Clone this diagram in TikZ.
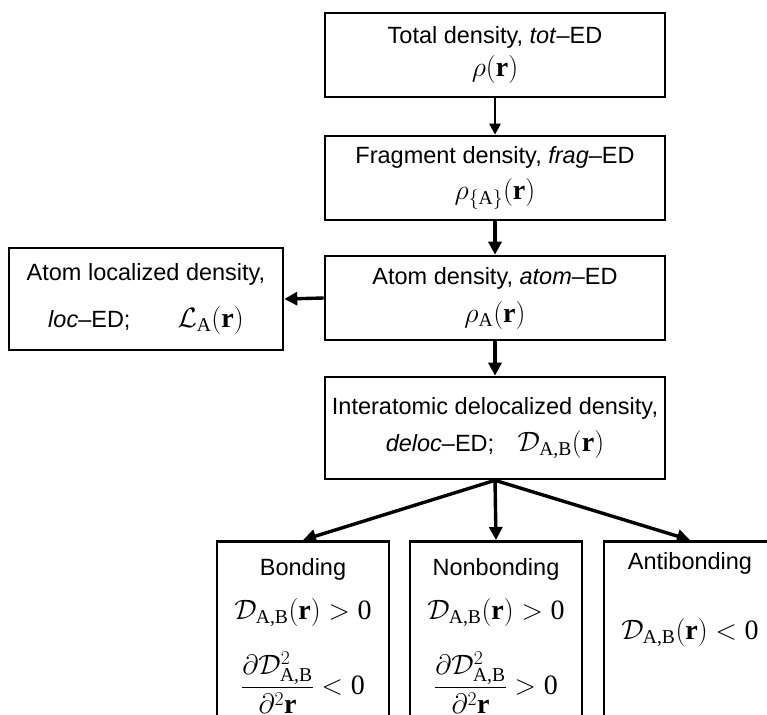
\RequirePackage{fix-cm}
\documentclass[tikz,border=0pt]{standalone}
\usepackage{amsmath}
\usepackage[no-math]{fontspec}
\setmainfont{Liberation Sans}
\newfontfamily\tnr{Liberation Serif}
\newcommand{\ssub}[1]{\text{\tnr #1}}
\newcommand{\bfr}{\text{\tnr\bfseries r}}
\newcommand{\mth}[1]{{\fontsize{28}{30}\selectfont$#1$}}
\usetikzlibrary{arrows.meta}
\begin{document}
\begin{tikzpicture}[x=1pt,y=-1pt,
  font=\fontsize{23.5}{28}\selectfont,
  box/.style={draw,line width=2.6pt,minimum width=340pt,minimum height=84pt,align=center,inner sep=0pt},
  lowbox/.style={draw,line width=2.6pt,minimum width=172pt,minimum height=230pt,anchor=north,inner sep=0pt},
  lowtxt/.style={anchor=north,align=center,inner sep=0pt},
  arr/.style={line width=3.4pt,-{Triangle[length=13pt,width=13pt]}},
  thinarr/.style={line width=2.6pt,-{Triangle[length=11pt,width=11pt]}}]
\useasboundingbox (0,0) rectangle (767,714);
\clip (0,0) rectangle (767,714);
\node[box] (tot) at (495,55) {Total density, \textit{tot}--ED\\[5pt] \mth{\rho(\bfr)}};
\node[box] (frag) at (495,178) {Fragment density, \textit{frag}--ED\\[8pt] \mth{\rho_{\{\ssub{A}\}}(\bfr)}};
\node[box] (atom) at (495,298) {Atom density, \textit{atom}--ED\\[10pt] \mth{\rho_{\ssub{A}}(\bfr)}};
\node[box,minimum width=274pt,minimum height=102pt] (loc) at (146,299) {Atom localized density,\\[19pt] \textit{loc}--ED;\qquad \mth{\mathcal{L}_{\ssub{A}}(\bfr)}};
\node[box,minimum height=102pt] (deloc) at (495,428) {Interatomic delocalized density,\\[9pt] \textit{deloc}--ED;\quad \mth{\mathcal{D}_{\ssub{A,B}}(\bfr)}};
\node[lowbox] (bond) at (303,540) {};
\node[lowbox] (nonbond) at (496,540) {};
\node[lowbox] (antibond) at (690,540) {};
\node[lowtxt] (bondtxt) at (303,558) {Bonding\\[16pt] \mth{\mathcal{D}_{\ssub{A,B}}(\bfr)>\ssub{0}}\\[24pt] \mth{\dfrac{\partial\mathcal{D}^2_{\ssub{A,B}}}{\partial^2\bfr}<\ssub{0}}};
\node[lowtxt] (nonbondtxt) at (496,558) {Nonbonding\\[16pt] \mth{\mathcal{D}_{\ssub{A,B}}(\bfr)>\ssub{0}}\\[24pt] \mth{\dfrac{\partial\mathcal{D}^2_{\ssub{A,B}}}{\partial^2\bfr}>\ssub{0}}};
\node[lowtxt] (antibondtxt) at (690,552) {Antibonding\\[42pt] \mth{\mathcal{D}_{\ssub{A,B}}(\bfr)<\ssub{0}}};
\draw[thinarr] (tot) -- (frag);
\draw[arr] (frag) -- (atom);
\draw[arr] (atom) -- (deloc);
\draw[arr] (atom.west) -- (loc.east);
\draw[arr] (deloc.south) -- (bond.north);
\draw[arr] (deloc.south) -- (nonbond.north);
\draw[arr] (deloc.south) -- (antibond.north);
\end{tikzpicture}
\end{document}
